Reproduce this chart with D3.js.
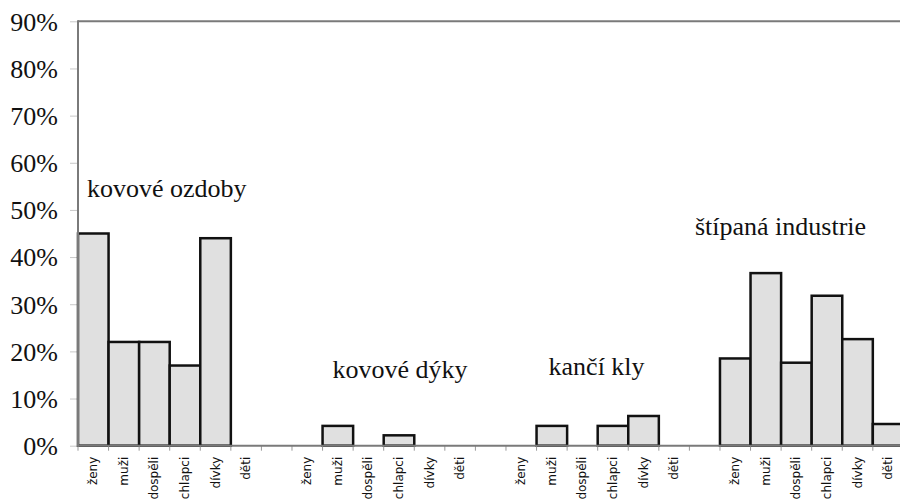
<!DOCTYPE html>
<html><head><meta charset="utf-8">
<script src="https://cdn.jsdelivr.net/npm/d3@7"></script>
<style>
html,body{margin:0;padding:0;background:#fff;}
svg{display:block;}
</style></head>
<body>
<svg id="c" width="900" height="503"></svg>
<script>
const categories = ["ženy","muži","dospěli","chlapci","dívky","děti"];
const groups = ["kovové ozdoby","kovové dýky","kančí kly","štípaná industrie"];
const ozdoby  = [45, 22, 22, 17, 44, 0];
const dyky    = [0, 4.2, 0, 2.2, 0, 0];
const kly     = [0, 4.2, 0, 4.2, 6.3, 0];
const stipana = [18.5, 36.6, 17.6, 31.8, 22.6, 4.6];
const yTicks = [0,10,20,30,40,50,60,70,80,90];
const series = [ozdoby, dyky, kly, stipana];

(function(){
const slots = [];
series.forEach((vals, g) => {
  vals.forEach((v, i) => slots.push({id: g+"-"+i, cat: categories[i], v: v, g: g}));
  if (g < series.length - 1) slots.push({id: "gap"+g, cat: "", v: null, g: g});
});

const svg = d3.select("#c");
const mLeft = 78, mTop = 21.3, mBottom = 445.7, slotW = 30.57;
const x = d3.scaleBand().domain(slots.map(d => d.id)).range([mLeft, mLeft + slots.length*slotW]).padding(0);
const y = d3.scaleLinear().domain([0, 90]).range([mBottom, mTop]);

const yAxis = d3.axisLeft(y).tickValues(yTicks).tickFormat(d => d + "%").tickSize(8).tickPadding(12);
const ga = svg.append("g").attr("transform", `translate(${mLeft},0)`).call(yAxis);
ga.attr("font-family", "'Liberation Serif', 'Times New Roman', serif").attr("font-size", 26);
ga.select(".domain").remove();
ga.selectAll(".tick line").attr("stroke", "#c8c8c8").attr("stroke-width", 1);
ga.selectAll(".tick text").attr("fill", "#111").attr("dy", "0.34em");

svg.append("line").attr("x1", mLeft).attr("x2", 900).attr("y1", mTop).attr("y2", mTop)
  .attr("stroke", "#7a7a7a").attr("stroke-width", 2);

svg.append("g").selectAll("rect").data(slots.filter(d => d.v)).join("rect")
  .attr("x", d => x(d.id)).attr("width", x.bandwidth())
  .attr("y", d => y(d.v)).attr("height", d => y(0) - y(d.v))
  .attr("fill", "#e0e0e0").attr("stroke", "#111").attr("stroke-width", 2.5);

const bounds = slots.map(d => x(d.id)).concat([x(slots[slots.length-1].id) + x.bandwidth()]);
svg.append("g").selectAll("line").data(bounds).join("line")
  .attr("x1", d => d).attr("x2", d => d).attr("y1", mBottom).attr("y2", mBottom + 5)
  .attr("stroke", "#999").attr("stroke-width", 1);
svg.append("line").attr("x1", mLeft).attr("x2", 900).attr("y1", mBottom).attr("y2", mBottom)
  .attr("stroke", "#7a7a7a").attr("stroke-width", 2);
svg.append("line").attr("x1", mLeft).attr("x2", mLeft).attr("y1", mTop - 1).attr("y2", mBottom + 1)
  .attr("stroke", "#7a7a7a").attr("stroke-width", 2);

// category labels, vertical (reading bottom to top)
svg.append("g").selectAll("text").data(slots.filter(d => d.cat)).join("text")
  .attr("transform", d => `translate(${x(d.id) + x.bandwidth()/2 + 4},${mBottom + 11}) rotate(-90)`)
  .attr("text-anchor", "end")
  .attr("font-family", "'DejaVu Sans', sans-serif").attr("font-size", 12).attr("fill", "#111")
  .text(d => d.cat);

const titleSpec = [
  {g: 0, slot: "0-0", dx: 9, v: 52.7},
  {g: 1, slot: "1-1", dx: 10, v: 14.4},
  {g: 2, slot: "2-1", dx: 12, v: 15.0},
  {g: 3, slot: "3-0", dx: -25, v: 44.7}
];
svg.append("g").selectAll("text").data(titleSpec).join("text")
  .attr("x", d => x(d.slot) + d.dx).attr("y", d => y(d.v))
  .attr("font-family", "'Liberation Serif', 'Times New Roman', serif").attr("font-size", 26)
  .attr("fill", "#111").text(d => groups[d.g]);
})();
</script>
</body></html>
